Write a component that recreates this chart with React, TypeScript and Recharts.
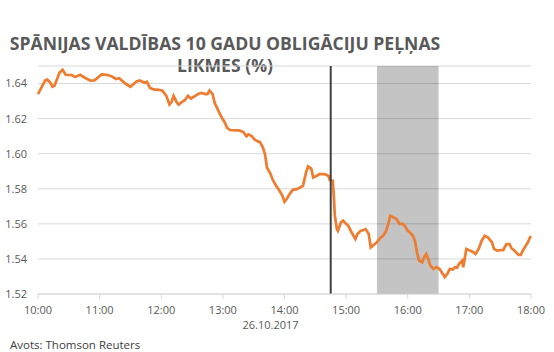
import React from "react";
import {
  LineChart,
  Line,
  XAxis,
  YAxis,
  CartesianGrid,
  ReferenceLine,
  ReferenceArea,
} from "recharts";

const times = [
  "10:00", "10:07", "10:09", "10:12", "10:14", "10:16", "10:18", "10:21", "10:24", "10:27",
  "10:33", "10:36", "10:41", "10:46", "10:51", "10:55", "11:02", "11:07", "11:12", "11:16",
  "11:19", "11:25", "11:30", "11:36", "11:39", "11:44", "11:46", "11:49", "11:53", "11:56",
  "11:59", "12:01", "12:05", "12:08", "12:10", "12:12", "12:15", "12:17", "12:20", "12:23",
  "12:26", "12:29", "12:33", "12:36", "12:39", "12:43", "12:45", "12:47", "12:50", "12:52",
  "12:56", "12:59", "13:02", "13:04", "13:07", "13:12", "13:16", "13:20", "13:23", "13:25",
  "13:28", "13:31", "13:34", "13:36", "13:39", "13:41", "13:43", "13:46", "13:49", "13:52",
  "13:55", "13:58", "14:00", "14:02", "14:05", "14:08", "14:12", "14:15", "14:18", "14:21",
  "14:23", "14:26", "14:28", "14:31", "14:34", "14:36", "14:39", "14:43", "14:44", "14:47",
  "14:48", "14:49", "14:51", "14:52", "14:55", "14:57", "15:00", "15:02", "15:05", "15:09",
  "15:11", "15:14", "15:17", "15:19", "15:22", "15:24", "15:26", "15:30", "15:33", "15:36",
  "15:39", "15:41", "15:43", "15:46", "15:49", "15:52", "15:55", "15:57", "16:00", "16:02",
  "16:05", "16:07", "16:09", "16:11", "16:14", "16:16", "16:18", "16:20", "16:22", "16:25",
  "16:28", "16:31", "16:34", "16:36", "16:39", "16:41", "16:44", "16:46", "16:48", "16:50",
  "16:53", "16:54", "16:56", "16:57", "17:01", "17:04", "17:06", "17:09", "17:12", "17:15",
  "17:18", "17:22", "17:24", "17:27", "17:30", "17:33", "17:36", "17:39", "17:41", "17:44",
  "17:48", "17:50", "17:52", "17:55", "17:57", "17:59", "18:00",
];

const yields = [
  1.634, 1.6418, 1.6422, 1.6405, 1.6382, 1.6388, 1.6418, 1.6462, 1.6478, 1.645,
  1.6448, 1.6437, 1.645, 1.6432, 1.6417, 1.6418, 1.6452, 1.645, 1.644, 1.6426,
  1.643, 1.64, 1.6382, 1.6412, 1.6418, 1.6405, 1.641, 1.6375, 1.6366, 1.6366,
  1.6362, 1.636, 1.633, 1.628, 1.6294, 1.633, 1.6294, 1.628, 1.6294, 1.6305,
  1.633, 1.6315, 1.633, 1.634, 1.6347, 1.634, 1.634, 1.636, 1.634, 1.629,
  1.624, 1.6205, 1.6177, 1.6148, 1.6135, 1.6133, 1.6133, 1.6123, 1.61, 1.611,
  1.61, 1.608, 1.607, 1.6067, 1.6035, 1.5997, 1.592, 1.589, 1.5846, 1.5816,
  1.579, 1.576, 1.5726, 1.574, 1.577, 1.5794, 1.5798, 1.5807, 1.5817, 1.5893,
  1.5927, 1.5915, 1.5864, 1.5873, 1.5883, 1.5883, 1.5883, 1.5873, 1.585, 1.5845,
  1.576, 1.5646, 1.557, 1.556, 1.5609, 1.5618, 1.56, 1.559, 1.5555, 1.5514,
  1.5542, 1.556, 1.5565, 1.557, 1.5542, 1.5466, 1.5476, 1.5495, 1.5518, 1.5532,
  1.556, 1.56, 1.5646, 1.5637, 1.5627, 1.56, 1.56, 1.559, 1.556, 1.5552,
  1.5532, 1.5504, 1.5438, 1.539, 1.5381, 1.541, 1.5428, 1.54, 1.5362, 1.5343,
  1.5353, 1.5343, 1.5315, 1.5296, 1.532, 1.5343, 1.534, 1.5353, 1.535, 1.5372,
  1.539, 1.5353, 1.5419, 1.5457, 1.5447, 1.5438, 1.5428, 1.5457, 1.5504, 1.5532,
  1.5523, 1.5495, 1.5457, 1.5447, 1.545, 1.545, 1.5485, 1.5485, 1.5461, 1.5447,
  1.5423, 1.5423, 1.5447, 1.5476, 1.5495, 1.5523, 1.553,
];

const hourTicks = ["10:00", "11:00", "12:00", "13:00", "14:00", "15:00", "16:00", "17:00", "18:00"];
const yTicks = [1.52, 1.54, 1.56, 1.58, 1.6, 1.62, 1.64];
const yDomain = [1.52, 1.65];
const dateLabel = "26.10.2017";
const dateTick = "14:00";
const markerTime = "14:45";
const shadeFrom = "15:30";
const shadeTo = "16:30";
const titleLine1 = "SPĀNIJAS VALDĪBAS 10 GADU OBLIGĀCIJU PEĻŅAS";
const titleLine2 = "LIKMES (%)";
const sourceText = "Avots: Thomson Reuters";

const toMin = (t: string) => {
  const [h, m] = t.split(":").map(Number);
  return (h - 10) * 60 + m;
};
const fromMin = (m: number) => {
  const h = 10 + Math.floor(m / 60);
  const mm = m % 60;
  return `${h}:${mm < 10 ? "0" + mm : mm}`;
};

const data = times.map((t, i) => ({ m: toMin(t), v: yields[i] }));

const FONT = "'Open Sans', sans-serif";
const TEXT = "#595959";

const XTick = (props: any) => {
  const { x, y, payload } = props;
  const label = fromMin(payload.value);
  return (
    <g>
      <text x={x} y={y} dy="0.71em" textAnchor="middle" fill={TEXT} fontSize={11} fontFamily={FONT}>
        {label}
      </text>
      {label === dateTick && (
        <text x={x - 14} y={y + 15} dy="0.71em" textAnchor="middle" fill={TEXT} fontSize={11} fontFamily={FONT}>
          {dateLabel}
        </text>
      )}
    </g>
  );
};

export default function App() {
  return (
    <div style={{ position: "absolute", left: 0, top: 0, width: 554, height: 352, background: "#fff" }}>
      <div
        style={{
          position: "absolute",
          left: 0,
          width: 450,
          top: 32,
          textAlign: "center",
          fontFamily: FONT,
          fontWeight: 700,
          fontSize: 17.6,
          lineHeight: "22px",
          color: TEXT,
          whiteSpace: "nowrap",
        }}
      >
        <div>{titleLine1}</div>
        <div>{titleLine2}</div>
      </div>
      <LineChart
        width={554}
        height={352}
        data={data}
        margin={{ top: 66, right: 23, bottom: 28, left: 0 }}
      >
        <CartesianGrid vertical={false} stroke="#d9d9d9" strokeWidth={1} />
        <XAxis
          type="number"
          dataKey="m"
          domain={[0, 480]}
          ticks={hourTicks.map(toMin)}
          tick={<XTick />}
          axisLine={{ stroke: "#d9d9d9" }}
          tickLine={{ stroke: "#d9d9d9" }}
          tickSize={5}
          tickMargin={7}
          height={30}
          interval={0}
        />
        <YAxis
          type="number"
          domain={yDomain}
          ticks={yTicks}
          tickFormatter={(v: number) => v.toFixed(2)}
          axisLine={false}
          tickLine={false}
          tickMargin={5}
          width={38}
          tick={{ fill: TEXT, fontSize: 11, fontFamily: FONT }}
          interval={0}
        />
        <Line
          type="linear"
          dataKey="v"
          stroke="#ED7D31"
          strokeWidth={2.75}
          dot={false}
          isAnimationActive={false}
        />
        <ReferenceLine x={toMin(markerTime)} stroke="#404040" strokeWidth={2} />
        <ReferenceArea
          x1={toMin(shadeFrom)}
          x2={toMin(shadeTo)}
          fill="#000000"
          fillOpacity={0.23}
          stroke="none"
        />
      </LineChart>
      <div
        style={{
          position: "absolute",
          left: 10,
          top: 337,
          fontFamily: FONT,
          fontSize: 11.5,
          color: "#404040",
          whiteSpace: "nowrap",
        }}
      >
        {sourceText}
      </div>
    </div>
  );
}
